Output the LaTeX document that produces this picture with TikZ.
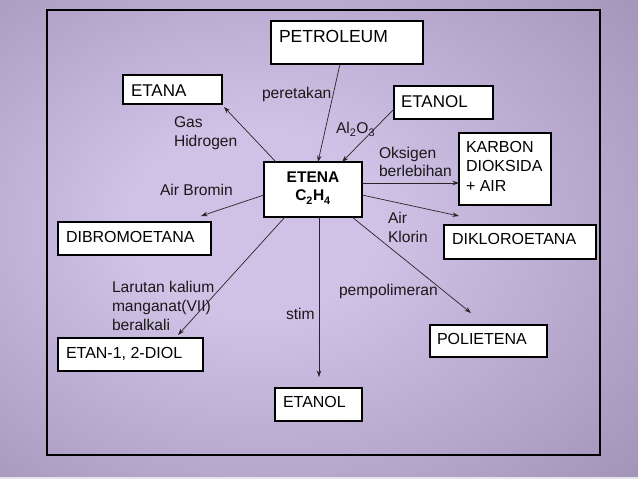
\documentclass[tikz,border=0pt]{standalone}
\usepackage{fontspec}
\setmainfont{Liberation Sans}
\usetikzlibrary{arrows.meta}
\definecolor{bgin}{RGB}{208,193,230}
\definecolor{bgmid}{RGB}{172,158,194}
\definecolor{bgedge}{RGB}{140,128,158}
\definecolor{bgout}{RGB}{122,111,138}
\definecolor{strip}{RGB}{230,228,234}
\pgfdeclareradialshading{bgshade}{\pgfpoint{-6bp}{2bp}}{color(0bp)=(bgin); color(10bp)=(bgin); color(32bp)=(bgmid); color(50bp)=(bgedge); color(72bp)=(bgout)}
\newcommand\myfs[1]{\fontsize{#1}{#1}\selectfont}
\tikzset{
  box/.style={draw=black, fill=white, line width=1.2pt, inner sep=0pt, outer sep=0pt, anchor=north west},
  txt/.style={anchor=base west, inner sep=0pt, outer sep=0pt, text=black, font=\myfs{16}},
  bigtxt/.style={txt, font=\myfs{17}},
  lbl/.style={anchor=base west, inner sep=0pt, outer sep=0pt, text=black!90, font=\myfs{15.6}},
  arr/.style={-{Stealth[length=6.5pt,width=4.5pt]}, line width=0.7pt, draw=black!85},
}
\begin{document}
\begin{tikzpicture}[x=1pt,y=-1pt]
\shade[shading=bgshade] (0,0) rectangle (638,479);
\fill[strip] (0,477) rectangle (638,479);
\useasboundingbox (0,0) rectangle (638,479);
\draw[line width=1.2pt] (47,10) rectangle (600,455);

% boxes
\node[box, minimum width=152pt, minimum height=43pt] (petro) at (271,21) {};
\node[box, minimum width=99pt, minimum height=29pt] (etana) at (123,75) {};
\node[box, minimum width=99pt, minimum height=33pt] (etanolA) at (394,86) {};
\node[box, minimum width=98pt, minimum height=55pt] (etena) at (264,162) {};
\node[box, minimum width=92pt, minimum height=72pt] (karbon) at (459,133) {};
\node[box, minimum width=153pt, minimum height=33pt] (dibromo) at (58,222) {};
\node[box, minimum width=152pt, minimum height=34pt] (dikloro) at (444,225) {};
\node[box, minimum width=145pt, minimum height=33pt] (diol) at (58,338) {};
\node[box, minimum width=117pt, minimum height=32pt] (poli) at (430,325) {};
\node[box, minimum width=87pt, minimum height=33pt] (etanolB) at (275,388) {};

% box texts
\node[bigtxt, font=\myfs{17.5}] (tpetro) at ([shift={(8,21)}]petro.north west) {PETROLEUM};
\node[bigtxt] (tetana) at ([shift={(8,21)}]etana.north west) {ETANA};
\node[bigtxt] (tetanolA) at ([shift={(7,21)}]etanolA.north west) {ETANOL};
\node[txt, anchor=base, font=\myfs{15.5}\bfseries] (tetena1) at ([shift={(0,20)}]etena.north) {ETENA};
\node[txt, anchor=base, font=\myfs{15.5}\bfseries] (tetena2) at ([shift={(0,38)}]etena.north) {C\raisebox{-1.5pt}{\textsubscript{2}}H\raisebox{-1.5pt}{\textsubscript{4}}};
\node[txt] (tkarbon1) at ([shift={(7,19)}]karbon.north west) {KARBON};
\node[txt] (tkarbon2) at ([shift={(7,38.5)}]karbon.north west) {DIOKSIDA};
\node[txt] (tkarbon3) at ([shift={(7,58.5)}]karbon.north west) {+ AIR};
\node[txt] (tdibromo) at ([shift={(8,20)}]dibromo.north west) {DIBROMOETANA};
\node[txt] (tdikloro) at ([shift={(8,19)}]dikloro.north west) {DIKLOROETANA};
\node[txt] (tdiol) at ([shift={(8,20)}]diol.north west) {ETAN-1, 2-DIOL};
\node[txt] (tpoli) at ([shift={(7,19)}]poli.north west) {POLIETENA};
\node[txt] (tetanolB) at ([shift={(8,19)}]etanolB.north west) {ETANOL};

% connectors
\draw[arr] ([xshift=69pt]petro.south west) -- ([xshift=54pt]etena.north west);
\draw[arr] ([shift={(0,-10)}]etanolA.south west) -- ([xshift=78pt]etena.north west);
\draw[arr] ([xshift=12pt]etena.north west) -- ([shift={(2,3)}]etana.south east);
\draw[arr] ([shift={(0,33)}]etena.north west) -- ([shift={(-10,-6)}]dibromo.north east);
\draw[arr] ([shift={(0,21)}]etena.north east) -- ([shift={(0,50)}]karbon.north west);
\draw[arr] ([shift={(0,33)}]etena.north east) -- ([shift={(15,-9)}]dikloro.north west);
\draw[arr] ([xshift=21pt]etena.south west) -- ([shift={(120,-3)}]diol.north west);
\draw[arr] ([xshift=55pt]etena.south west) -- ([shift={(44,-11)}]etanolB.north west);
\draw[arr] ([xshift=88pt]etena.south west) -- ([shift={(41,-12)}]poli.north west);

% labels
\node[lbl] (l1) at (262,98) {peretakan};
\node[lbl] (l2) at (336,133) {Al\raisebox{-1pt}{\textsubscript{2}}O\raisebox{-1pt}{\textsubscript{3}}};
\node[lbl] (l3a) at (174,127) {Gas};
\node[lbl] (l3b) at (174,146.5) {Hidrogen};
\node[lbl] (l4) at (160,195) {Air Bromin};
\node[lbl] (l5a) at (379,158) {Oksigen};
\node[lbl] (l5b) at (379,176) {berlebihan};
\node[lbl] (l6a) at (388,223) {Air};
\node[lbl] (l6b) at (388,242) {Klorin};
\node[lbl] (l7a) at (112,292) {Larutan kalium};
\node[lbl] (l7b) at (112,311) {manganat(VII)};
\node[lbl] (l7c) at (112,330) {beralkali};
\node[lbl] (l8) at (286,319) {stim};
\node[lbl] (l9) at (339,295) {pempolimeran};
\end{tikzpicture}
\end{document}
